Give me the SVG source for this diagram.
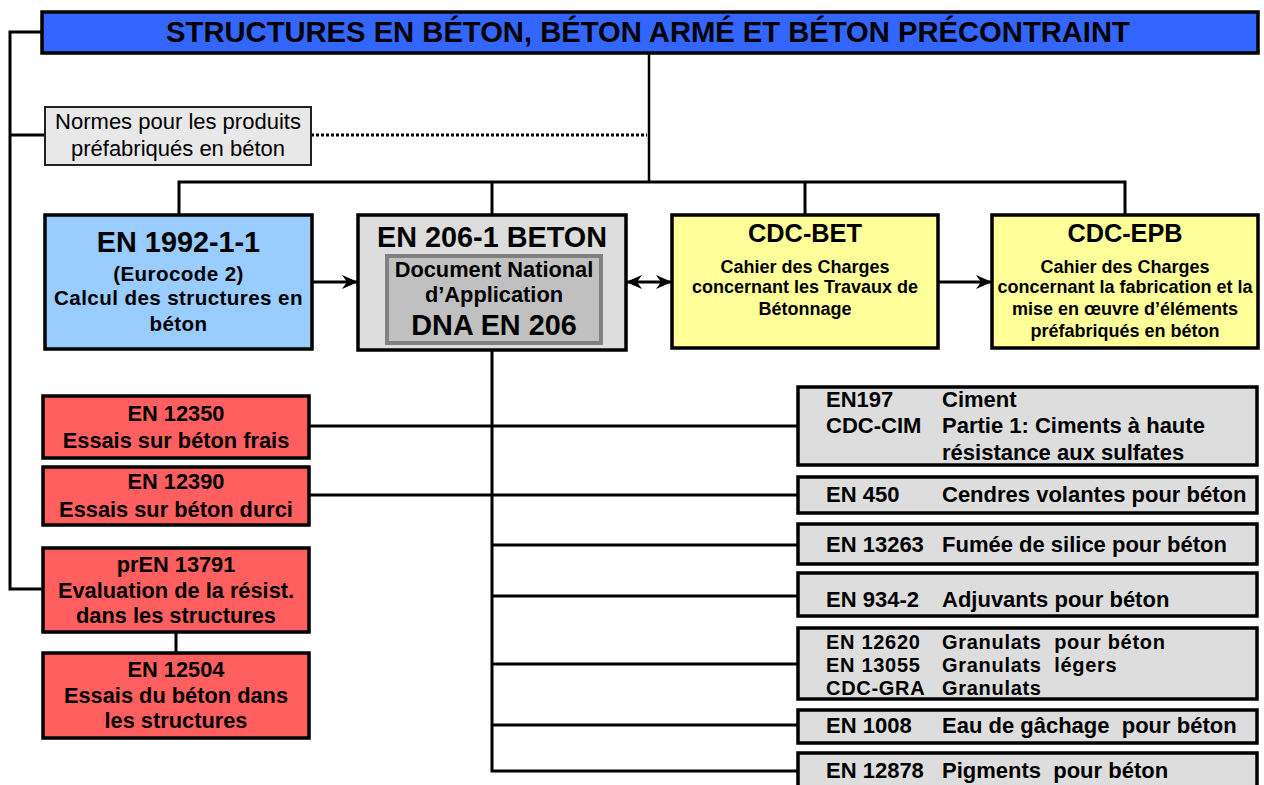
<svg xmlns="http://www.w3.org/2000/svg" width="1264" height="785" viewBox="0 0 1264 785">
<defs>
<marker id="ah" viewBox="0 0 16 14" refX="15" refY="7" markerWidth="16" markerHeight="14" markerUnits="userSpaceOnUse" orient="auto-start-reverse">
<path d="M0,0 L16,7 L0,14 L5,7 z" fill="#000"/>
</marker>
</defs>
<style>
text{font-family:"Liberation Sans",Arial,Helvetica,sans-serif;font-weight:bold;fill:#000}
.box{stroke:#000;stroke-width:3.5}
.c{text-anchor:middle}
.big{font-size:28.8px}
.mid{font-size:21.8px}
.mid2{font-size:20.6px;letter-spacing:0.4px}
.sm{font-size:18px}
.red{fill:#ff5f5f}
.gry{fill:#dddddd}
.ln{fill:none;stroke:#000;stroke-width:3}
.rt{font-size:22px}
.rt2{font-size:20px;letter-spacing:0.7px}
</style>
<g id="connectors">
<polyline class="ln" points="42,32 10,32 10,589 43,589"/>
<line class="ln" x1="10" y1="135" x2="45" y2="135"/>
<line x1="649" y1="53" x2="649" y2="182" stroke="#000" stroke-width="2.5"/>
<line x1="311" y1="135" x2="647" y2="135" stroke="#000" stroke-width="3" stroke-dasharray="3 2"/>
<polyline class="ln" points="179,215 179,182 1125,182 1125,215"/>
<line class="ln" x1="492" y1="182" x2="492" y2="215"/>
<line class="ln" x1="805" y1="182" x2="805" y2="215"/>
<line class="ln" x1="312" y1="282" x2="357" y2="282" marker-end="url(#ah)"/>
<line class="ln" x1="627" y1="282" x2="671" y2="282" marker-start="url(#ah)" marker-end="url(#ah)"/>
<line class="ln" x1="938" y1="282" x2="991" y2="282" marker-end="url(#ah)"/>
<polyline class="ln" points="492,350 492,771 798,771"/>
<line class="ln" x1="309" y1="426" x2="798" y2="426"/>
<line class="ln" x1="309" y1="495" x2="798" y2="495"/>
<line class="ln" x1="492" y1="545" x2="798" y2="545"/>
<line class="ln" x1="492" y1="596" x2="798" y2="596"/>
<line class="ln" x1="492" y1="664" x2="798" y2="664"/>
<line class="ln" x1="492" y1="725" x2="798" y2="725"/>
<line class="ln" x1="176" y1="632" x2="176" y2="653"/>
</g>
<g id="title">
<rect class="box" x="42" y="12" width="1216" height="41" fill="#3366ff"/>
<text class="c" x="648" y="42" style="font-size:29.2px">STRUCTURES EN BÉTON, BÉTON ARMÉ ET BÉTON PRÉCONTRAINT</text>
</g>
<g id="normes">
<rect x="45" y="107" width="266" height="58" fill="#e8e8e8" stroke="#222" stroke-width="2"/>
<text class="c" x="178" y="129" style="font-weight:normal;font-size:22px">Normes pour les produits</text>
<text class="c" x="178" y="156" style="font-weight:normal;font-size:22px">préfabriqués en béton</text>
</g>
<g id="en1992">
<rect class="box" x="45" y="215" width="267" height="134" fill="#99ccff"/>
<text class="c big" x="178.5" y="252">EN 1992-1-1</text>
<text class="c mid2" x="178.5" y="281">(Eurocode 2)</text>
<text class="c mid2" x="178.5" y="305">Calcul des structures en</text>
<text class="c mid2" x="178.5" y="331">béton</text>
</g>
<g id="en206">
<rect class="box" x="358" y="215" width="268" height="135" fill="#dddddd"/>
<text class="c big" x="492" y="247">EN 206-1 BETON</text>
<rect x="387" y="256" width="214" height="87" fill="#c0c0c0" stroke="#808080" stroke-width="4"/>
<text class="c mid" x="494" y="277">Document National</text>
<text class="c mid" x="494" y="302">d’Application</text>
<text class="c big" x="494" y="335">DNA EN 206</text>
</g>
<g id="cdcbet">
<rect class="box" x="672" y="215" width="266" height="133" fill="#ffff99"/>
<text class="c" x="805" y="242" style="font-size:25.3px">CDC-BET</text>
<text class="c sm" x="805" y="273">Cahier des Charges</text>
<text class="c sm" x="805" y="293">concernant les Travaux de</text>
<text class="c sm" x="805" y="315">Bétonnage</text>
</g>
<g id="cdcepb">
<rect class="box" x="992" y="215" width="266" height="133" fill="#ffff99"/>
<text class="c" x="1125" y="242" style="font-size:25.3px">CDC-EPB</text>
<text class="c sm" x="1125" y="273">Cahier des Charges</text>
<text class="c sm" x="1125" y="293">concernant la fabrication et la</text>
<text class="c sm" x="1125" y="315">mise en œuvre d’éléments</text>
<text class="c sm" x="1125" y="337">préfabriqués en béton</text>
</g>
<g id="en12350">
<rect class="box red" x="43" y="396" width="266" height="62"/>
<text class="c mid" x="176" y="421">EN 12350</text>
<text class="c mid" x="176" y="448">Essais sur béton frais</text>
</g>
<g id="en12390">
<rect class="box red" x="43" y="467" width="266" height="58"/>
<text class="c mid" x="176" y="489">EN 12390</text>
<text class="c mid" x="176" y="517">Essais sur béton durci</text>
</g>
<g id="pren13791">
<rect class="box red" x="43" y="548" width="266" height="84"/>
<text class="c mid" x="176" y="572">prEN 13791</text>
<text class="c mid" x="176" y="598">Evaluation de la résist.</text>
<text class="c mid" x="176" y="623">dans les structures</text>
</g>
<g id="en12504">
<rect class="box red" x="43" y="653" width="266" height="85"/>
<text class="c mid" x="176" y="677">EN 12504</text>
<text class="c mid" x="176" y="703">Essais du béton dans</text>
<text class="c mid" x="176" y="728">les structures</text>
</g>
<g id="en197">
<rect class="box gry" x="798" y="387" width="459" height="78"/>
<text class="rt" x="826" y="407">EN197</text>
<text class="rt" x="942" y="407">Ciment</text>
<text class="rt" x="826" y="433">CDC-CIM</text>
<text class="rt" x="942" y="433">Partie 1: Ciments à haute</text>
<text class="rt" x="942" y="460">résistance aux sulfates</text>
</g>
<g id="en450">
<rect class="box gry" x="798" y="477" width="459" height="36"/>
<text class="rt" x="826" y="502">EN 450</text>
<text class="rt" x="942" y="502">Cendres volantes pour béton</text>
</g>
<g id="en13263">
<rect class="box gry" x="798" y="524" width="459" height="40"/>
<text class="rt" x="826" y="552">EN 13263</text>
<text class="rt" x="942" y="552">Fumée de silice pour béton</text>
</g>
<g id="en934">
<rect class="box gry" x="798" y="573" width="459" height="43"/>
<text class="rt" x="826" y="607">EN 934-2</text>
<text class="rt" x="942" y="607">Adjuvants pour béton</text>
</g>
<g id="en12620">
<rect class="box gry" x="798" y="628" width="459" height="71"/>
<text class="rt2" x="826" y="649">EN 12620</text>
<text class="rt2" x="942" y="649" xml:space="preserve">Granulats  pour béton</text>
<text class="rt2" x="826" y="672">EN 13055</text>
<text class="rt2" x="942" y="672" xml:space="preserve">Granulats  légers</text>
<text class="rt2" x="826" y="695">CDC-GRA</text>
<text class="rt2" x="942" y="695">Granulats</text>
</g>
<g id="en1008">
<rect class="box gry" x="798" y="710" width="459" height="33"/>
<text class="rt" x="826" y="733">EN 1008</text>
<text class="rt" x="942" y="733" xml:space="preserve">Eau de gâchage  pour béton</text>
</g>
<g id="en12878">
<rect class="box gry" x="798" y="753" width="459" height="40"/>
<text class="rt" x="826" y="778">EN 12878</text>
<text class="rt" x="942" y="778" xml:space="preserve">Pigments  pour béton</text>
</g>
</svg>
